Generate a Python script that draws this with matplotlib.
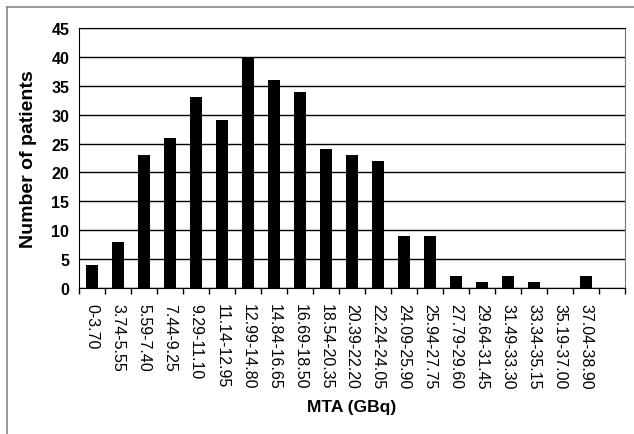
import matplotlib.pyplot as plt
import numpy as np

plt.rcParams['font.family'] = ['Liberation Sans', 'DejaVu Sans']

# MTA classes (GBq) and patient counts; last slot is an empty class
classes = ["0-3.70", "3.74-5.55", "5.59-7.40", "7.44-9.25", "9.29-11.10",
           "11.14-12.95", "12.99-14.80", "14.84-16.65", "16.69-18.50",
           "18.54-20.35", "20.39-22.20", "22.24-24.05", "24.09-25.90",
           "25.94-27.75", "27.79-29.60", "29.64-31.45", "31.49-33.30",
           "33.34-35.15", "35.19-37.00", "37.04-38.90", ""]
patients = [4, 8, 23, 26, 33, 29, 40, 36, 34, 24, 23, 22, 9, 9, 2, 1, 2, 1, 0, 2, 0]
yticks = [0, 5, 10, 15, 20, 25, 30, 35, 40, 45]

fig = plt.figure(figsize=(6.34, 4.35), dpi=100)
ax = fig.add_axes([0.1246, 0.3356, 0.8612, 0.5977])

x = np.arange(len(classes))
ax.bar(x, patients, width=0.46, color="black", zorder=3)

# horizontal gridlines
ax.set_yticks(yticks)
ax.yaxis.grid(True, color="black", linewidth=1, zorder=1)
ax.set_ylim(0, 45)
ax.set_xlim(-0.5, len(classes) - 0.5)

# labels at bar centres, tick marks at class boundaries
ax.set_xticks(x)
ax.set_xticklabels(classes, rotation=270, fontsize=11.5, va="top", ha="center")
ax.tick_params(axis="x", which="major", length=0, pad=11)
ax.set_xticks(np.arange(len(classes) + 1) - 0.5, minor=True)
ax.tick_params(axis="x", which="minor", length=4, width=1, direction="out")
ax.tick_params(axis="y", length=0, pad=7)
for lab in ax.get_yticklabels():
    lab.set_fontweight("bold")
    lab.set_fontsize(11.5)

for s in ["left", "bottom", "top"]:
    ax.spines[s].set_color("black")
ax.spines["right"].set_color("#777777")

ax.set_ylabel("Number of patients", fontsize=14, fontweight="bold", labelpad=10)
fig.text(0.555, 0.064, "MTA (GBq)", fontsize=12.5, fontweight="bold", ha="center", va="center")

# outer frame (top and left visible)
fig.add_artist(plt.Line2D([7 / 634, 1], [1 - 8 / 435, 1 - 8 / 435], color="#888888", lw=1.2))
fig.add_artist(plt.Line2D([7 / 634, 7 / 634], [0, 1 - 8 / 435], color="#888888", lw=1.2))

fig.savefig("out.png", dpi=100)
